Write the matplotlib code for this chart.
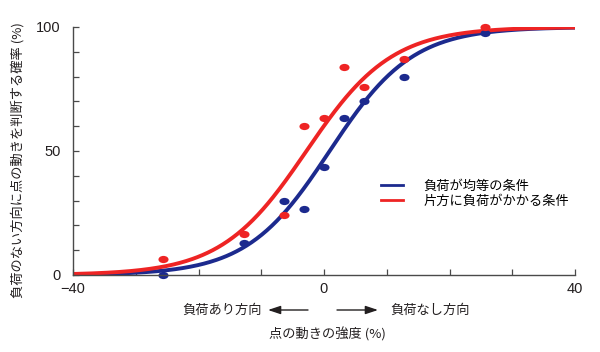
import numpy as np
import matplotlib
matplotlib.use("Agg")
import matplotlib.pyplot as plt
from matplotlib.markers import MarkerStyle
from matplotlib.transforms import Affine2D
from matplotlib.lines import Line2D
from matplotlib.patches import FancyArrowPatch

plt.rcParams['font.family'] = ['Noto Sans CJK JP', 'DejaVu Sans']

# motion strength levels (%) and observed proportions (%)
levels = [-25.6, -12.8, -6.4, -3.2, 0, 3.2, 6.4, 12.8, 25.6]
even_load = [0, 13, 30, 26.5, 43.5, 63.5, 70, 80, 97.5]
one_side_load = [6.5, 16.5, 24, 60, 63.5, 84, 76, 87, 100]

# logistic fit parameters (midpoint, spread)
even_fit = (0.9, 6.6)
one_side_fit = (-2.8, 6.8)

labels = ["負荷が均等の条件", "片方に負荷がかかる条件"]
blue = "#1c2a8e"
red = "#ee2424"
dark = "#231f20"


def logistic(x, mu, s):
    return 100 / (1 + np.exp(-(x - mu) / s))


fig = plt.figure(figsize=(6, 3.52), dpi=100)
ax = fig.add_axes([73 / 600, 1 - 275 / 352, 502 / 600, 248 / 352])

xs = np.linspace(-40, 40, 400)
ax.plot(xs, logistic(xs, *even_fit), color=blue, lw=2.8, solid_capstyle='butt')
ax.plot(xs, logistic(xs, *one_side_fit), color=red, lw=2.8, solid_capstyle='butt')

ell = MarkerStyle('o', transform=Affine2D().scale(1.4, 1))
ax.plot(levels, even_load, ls='none', marker=ell, ms=5.2, color=blue, mec='none', clip_on=False)
ax.plot(levels, one_side_load, ls='none', marker=ell, ms=5.2, color=red, mec='none', clip_on=False)

ax.set_xlim(-40, 40)
ax.set_ylim(0, 100)
ax.set_xticks([-40, 0, 40])
ax.set_xticks(np.arange(-40, 41, 10), minor=True)
ax.set_yticks([0, 50, 100])
ax.set_yticks(np.arange(0, 101, 10), minor=True)
for s in ['top', 'right']:
    ax.spines[s].set_visible(False)
for s in ['left', 'bottom']:
    ax.spines[s].set_color("#4a4a4a")
    ax.spines[s].set_linewidth(1.0)
ax.tick_params(which='both', direction='in', length=4, width=0.9, color="#4a4a4a")
ax.tick_params(axis='x', which='major', pad=5)
ax.tick_params(axis='y', which='major', pad=9)
for t in ax.get_xticklabels() + ax.get_yticklabels():
    t.set_fontfamily('Liberation Sans')
    t.set_fontsize(10.5)
    t.set_color(dark)

handles = [Line2D([], [], color=blue, lw=2), Line2D([], [], color=red, lw=2)]
fig.legend(handles, labels, loc='upper left', bbox_to_anchor=(381 / 600, 1 - 180 / 352),
           frameon=False, fontsize=9.5, handlelength=1.7, handletextpad=1.5,
           labelspacing=0.15, borderpad=0, borderaxespad=0)

fig.text(18 / 600, 1 - 160 / 352, "負荷のない方向に点の動きを判断する確率 (%)",
         rotation=90, ha='center', va='center', fontsize=9.5, color=dark)
fig.text(327 / 600, 1 - 334 / 352, "点の動きの強度 (%)", ha='center', va='center',
         fontsize=9.5, color=dark)

# direction arrows under the axis
fig.text(262 / 600, 1 - 310 / 352, "負荷あり方向", ha='right', va='center', fontsize=9.5, color=dark)
fig.text(390 / 600, 1 - 310 / 352, "負荷なし方向", ha='left', va='center', fontsize=9.5, color=dark)
arrow = dict(arrowstyle='-|>,head_length=0.75,head_width=0.25', color=dark, lw=1.0,
             mutation_scale=10, shrinkA=0, shrinkB=0)
fig.add_artist(FancyArrowPatch((308 / 600, 1 - 310 / 352), (268 / 600, 1 - 310 / 352),
                               transform=fig.transFigure, **arrow))
fig.add_artist(FancyArrowPatch((337 / 600, 1 - 310 / 352), (378 / 600, 1 - 310 / 352),
                               transform=fig.transFigure, **arrow))

fig.savefig("out.png", dpi=100)
